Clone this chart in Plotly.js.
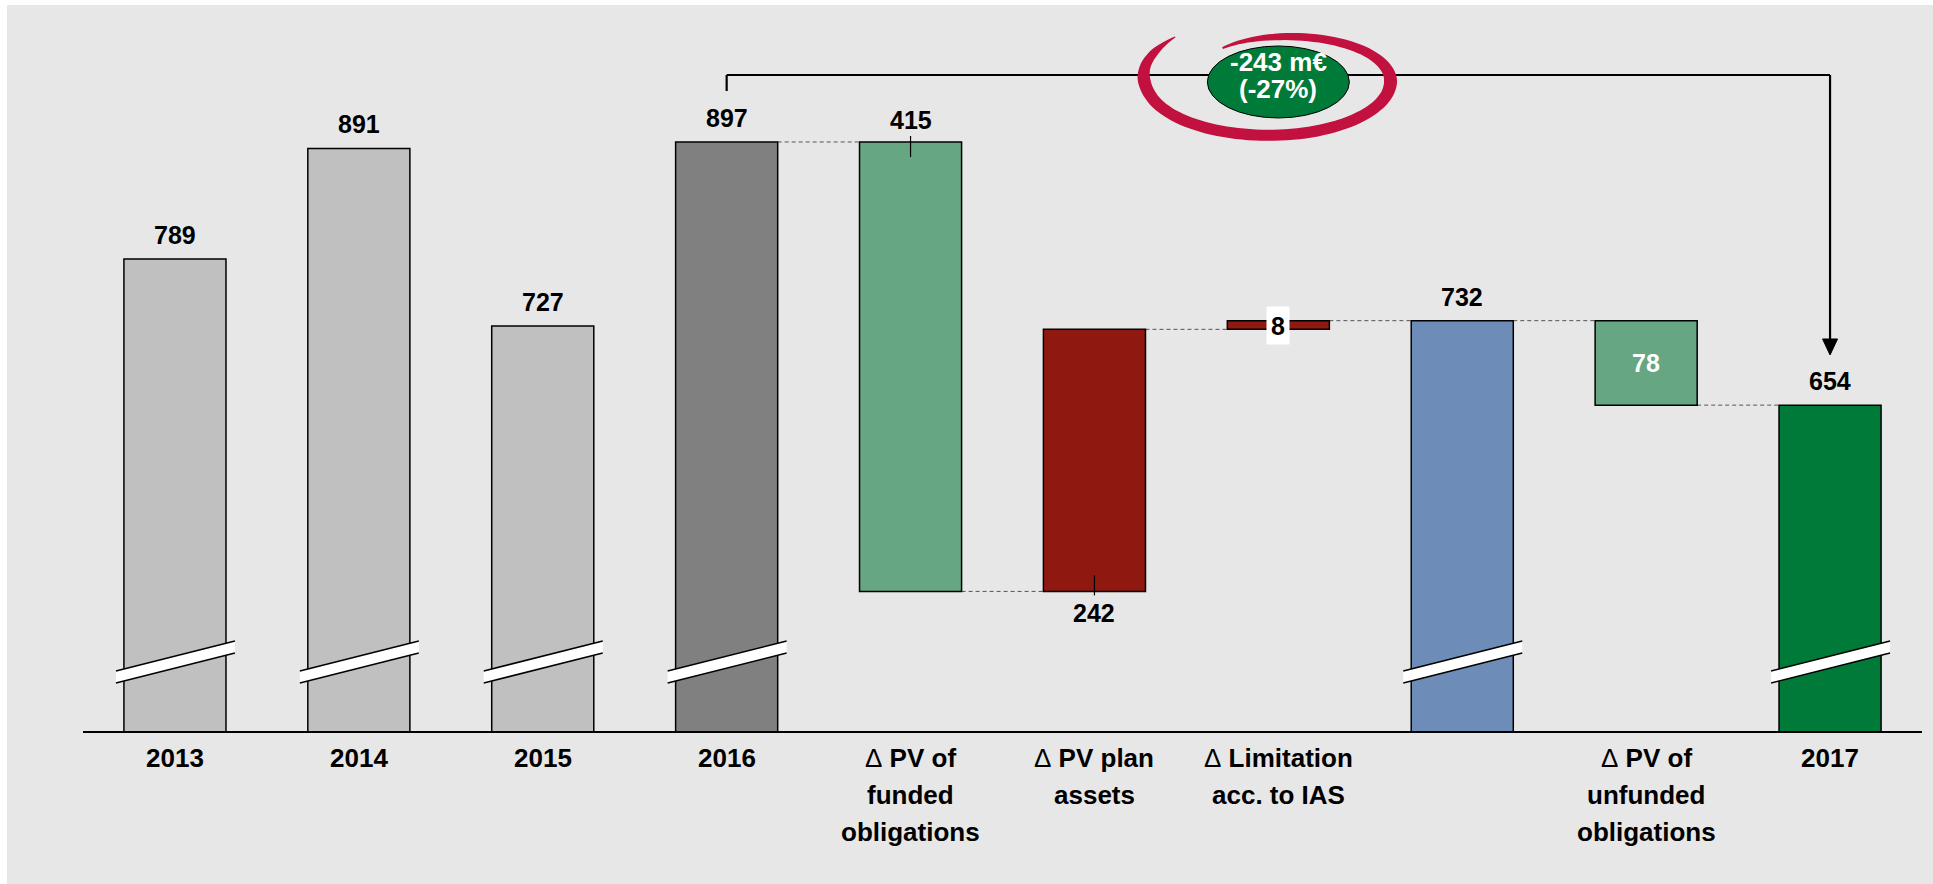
<!DOCTYPE html>
<html>
<head>
<meta charset="utf-8">
<script src="https://cdn.plot.ly/plotly-3.0.1.min.js"></script>
<style>
html,body{margin:0;padding:0;background:#ffffff;}
#chart{width:1933px;height:884px;}
</style>
</head>
<body>
<div id="chart"></div>
<script>
// ---------------- data ----------------
const categories = ['2013','2014','2015','2016','Δ PV of<br>funded<br>obligations','Δ PV plan<br>assets','Δ Limitation<br>acc. to IAS','','Δ PV of<br>unfunded<br>obligations','2017'];
const stepType   = ['total','total','total','total','delta','delta','delta','total','delta','total'];
const stepValues = [789, 891, 727, 897, -415, 242, 8, 732, -78, 654];
const compareFrom = 3;   // 2016
const compareTo   = 9;   // 2017

// ---------------- styles ----------------
const barColors = ['#c0c0c0','#c0c0c0','#c0c0c0','#808080','#66a682','#8f1910','#8f1910','#6d8cb8','#66a682','#007a38'];
const labelMode = ['above','above','above','above','aboveTick','belowTick','boxed','above','inside','above'];
const FONT = 'Liberation Sans, Arial, Helvetica, sans-serif';
const W = 1933, H = 884;
const M = {l:83, r:11, t:0, b:153};
const yRange = [353.1, 1028.1];
const barWidth = 0.555;
const hw = barWidth/2;

// ---------------- derived ----------------
let running = 0;
const base = [], height = [], topV = [], botV = [], level = [];
stepValues.forEach((v,i)=>{
  if(stepType[i]==='total'){ base.push(0); height.push(v); running = v; }
  else { const s = running, e = running + v; base.push(Math.min(s,e)); height.push(Math.abs(v)); running = e; }
  topV.push(base[i]+height[i]); botV.push(base[i]); level.push(running);
});
const xs = categories.map((c,i)=>i);

const trace = {
  type:'bar', x: xs, y: height, base: base, width: barWidth,
  marker:{color: barColors, line:{color:'#000', width:1.5}},
  hoverinfo:'skip', cliponaxis:true
};

const shapes = [];
const annotations = [];

// background (white strip at left & top)
const pw = W - M.l - M.r, ph = H - M.t - M.b;
const px2paperX = p => (p - M.l)/pw;
const px2paperY = p => 1 - (p - M.t)/ph;
shapes.push({type:'rect', xref:'paper', yref:'paper', layer:'below',
  x0:px2paperX(7), x1:px2paperX(W), y0:px2paperY(H), y1:px2paperY(5),
  fillcolor:'#e7e7e7', line:{width:0}});

// connectors
for(let i=compareFrom;i<categories.length-1;i++){
  shapes.push({type:'line', xref:'x', yref:'y', x0:i+hw, x1:i+1-hw, y0:level[i], y1:level[i],
    line:{color:'#555', width:1, dash:'4px,3px'}, layer:'below'});
}

// axis-break marks on the total bars
stepType.forEach((t,i)=>{
  if(t!=='total') return;
  const common = {xref:'x', yref:'y', xsizemode:'pixel', ysizemode:'pixel', xanchor:i, yanchor:yRange[0]};
  shapes.push(Object.assign({type:'path', path:'M -59,48 L 60,78 L 60,90 L -59,60 Z', fillcolor:'#ffffff', line:{width:0}}, common));
  shapes.push(Object.assign({type:'path', path:'M -59,60 L 60,90', line:{color:'#000', width:1.5}}, common));
  shapes.push(Object.assign({type:'path', path:'M -59,48 L 60,78', line:{color:'#000', width:1.5}}, common));
});

// value labels
stepValues.forEach((v,i)=>{
  const txt = String(Math.abs(v));
  const a = {x:i, xref:'x', yref:'y', showarrow:false, text:txt, yanchor:'middle',
    font:{family:FONT, size:25, color:'#000', weight:'bold'}};
  const mode = labelMode[i];
  if(mode==='above'){ a.y = topV[i]; a.yshift = 24; }
  else if(mode==='aboveTick'){ a.y = topV[i]; a.yshift = 22;
    shapes.push({type:'line', xref:'x', yref:'y', ysizemode:'pixel', yanchor:topV[i], x0:i, x1:i, y0:-15, y1:6, line:{color:'#000', width:1.2}}); }
  else if(mode==='belowTick'){ a.y = botV[i]; a.yshift = -22;
    shapes.push({type:'line', xref:'x', yref:'y', ysizemode:'pixel', yanchor:botV[i], x0:i, x1:i, y0:-4, y1:16, line:{color:'#000', width:1.2}}); }
  else if(mode==='boxed'){ a.y = (topV[i]+botV[i])/2; a.bgcolor = '#ffffff'; a.width = 22; a.height = 37; a.borderpad = 0; }
  else if(mode==='inside'){ a.y = (topV[i]+botV[i])/2; a.font.color = '#ffffff'; }
  annotations.push(a);
});

// category labels (one annotation per line)
categories.forEach((c,i)=>{
  c.split('<br>').forEach((line,k)=>{
    if(!line) return;
    annotations.push({x:i, xref:'x', yref:'paper', y:0, yanchor:'middle', yshift:-(27 + k*37),
      showarrow:false, text: line.replace('Δ','<span style="font-weight:normal">Δ</span>'),
      font:{family:FONT, size:26, color:'#000', weight:'bold'}});
  });
});

// bracket from 2016 to 2017 with arrow
const bAnchor = topV[compareFrom];
const bc = {xref:'x', yref:'y', ysizemode:'pixel', yanchor:bAnchor, line:{color:'#000', width:2.2}};
shapes.push(Object.assign({type:'line', x0:compareFrom, x1:compareFrom, y0:51, y1:67}, bc));
shapes.push(Object.assign({type:'line', x0:compareFrom, x1:compareTo, y0:67, y1:67}, bc));
shapes.push(Object.assign({type:'line', x0:compareTo, x1:compareTo, y0:67, y1:-199}, bc));
shapes.push({type:'path', xref:'x', yref:'y', xsizemode:'pixel', ysizemode:'pixel', xanchor:compareTo, yanchor:bAnchor,
  path:'M -7.5,-197 L 7.5,-197 L 0,-213 Z', fillcolor:'#000', line:{color:'#000', width:1}});

// red hand-drawn swoosh around the bubble
const midX = (compareFrom + compareTo)/2;
function swoosh(){
  const tn = [0,0.05,0.14,0.4,0.66,0.9,1], wn = [1,8,13,11,13,7,2];
  const wf = t => { for(let j=0;j<tn.length-1;j++){ if(t<=tn[j+1]){ const f=(t-tn[j])/(tn[j+1]-tn[j]); return wn[j]+f*(wn[j+1]-wn[j]); } } return wn[wn.length-1]; };
  const sf = t => 0.97 + (t<0.2 ? 0.18*Math.pow(1-t/0.2,2) : 0) - (t>0.75 ? 0.22*Math.pow((t-0.75)/0.25,2) : 0);
  const a = 126, bTop = 50, bLow = 56, cx = -10, cy = 61;
  const outer = [], inner = [];
  for(let k=0;k<=120;k++){
    const t = k/120, th = (230 - 349*t)*Math.PI/180, s = sf(t), w = wf(t);
    const b = Math.sin(th) > 0 ? bLow : bTop;
    outer.push([cx + (a*s + w/2)*Math.cos(th), cy - (b*s + w/2)*Math.sin(th)]);
    inner.push([cx + (a*s - w/2)*Math.cos(th), cy - (b*s - w/2)*Math.sin(th)]);
  }
  const pts = outer.concat(inner.reverse());
  return 'M ' + pts.map(p=>p[0].toFixed(1)+','+p[1].toFixed(1)).join(' L ') + ' Z';
}
shapes.push({type:'path', xref:'x', yref:'y', xsizemode:'pixel', ysizemode:'pixel', xanchor:midX, yanchor:bAnchor,
  path: swoosh(), fillcolor:'#c2103f', line:{width:0}});

// green bubble
shapes.push({type:'circle', xref:'x', yref:'y', xsizemode:'pixel', ysizemode:'pixel', xanchor:midX, yanchor:bAnchor,
  x0:-71, x1:71, y0:24, y1:96, fillcolor:'#007a38', line:{color:'#000', width:1}});
const diff = stepValues[compareTo] - stepValues[compareFrom];
const pct = Math.round(diff / stepValues[compareFrom] * 100);
annotations.push({x:midX, xref:'x', y:bAnchor, yref:'y', yshift:80, yanchor:'middle', showarrow:false,
  text: diff + ' m€', font:{family:FONT, size:26, color:'#fff', weight:'bold'}});
annotations.push({x:midX, xref:'x', y:bAnchor, yref:'y', yshift:53, yanchor:'middle', showarrow:false,
  text: '(' + pct + '%)', font:{family:FONT, size:26, color:'#fff', weight:'bold'}});

const layout = {
  width: W, height: H,
  margin: M,
  paper_bgcolor:'#ffffff', plot_bgcolor:'rgba(0,0,0,0)',
  showlegend:false,
  xaxis:{range:[-0.5, categories.length-0.5], showticklabels:false, ticks:'', showgrid:false, zeroline:false,
    showline:true, linecolor:'#000', linewidth:2, fixedrange:true},
  yaxis:{range:yRange, showticklabels:false, ticks:'', showgrid:false, zeroline:false, showline:false, fixedrange:true},
  shapes: shapes,
  annotations: annotations,
  bargap:0
};

Plotly.newPlot('chart', [trace], layout, {displayModeBar:false, staticPlot:true});
</script>
</body>
</html>
